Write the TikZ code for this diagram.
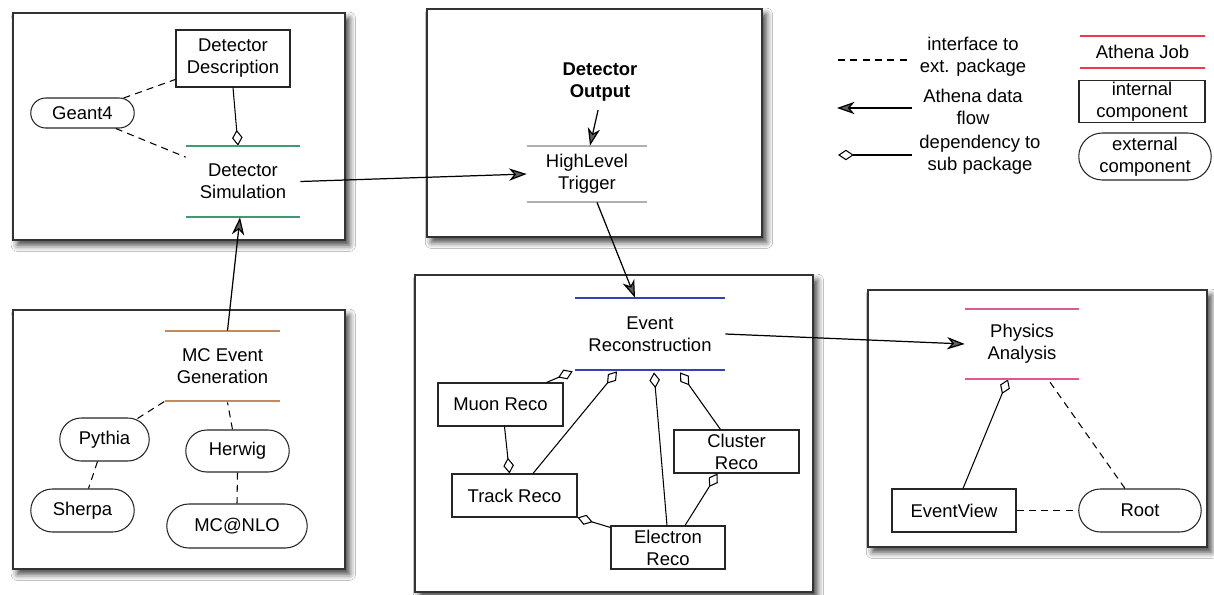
\documentclass[tikz,border=0pt]{standalone}
\usepackage{fontspec}
\setmainfont{Liberation Sans}
\usepackage{xcolor}
\usetikzlibrary{positioning,arrows.meta,calc,shapes.misc,shadows.blur}

\definecolor{simline}{HTML}{3F9A74}
\definecolor{hltline}{HTML}{B0B0B0}
\definecolor{recoline}{HTML}{2E46B0}
\definecolor{analine}{HTML}{DA5A98}
\definecolor{genline}{HTML}{C28A5E}
\definecolor{legjobline}{HTML}{EC3A4A}
\newcommand\mainsize{\fontsize{10.5}{12.5}\selectfont}

\begin{document}
\begin{tikzpicture}[x=0.02cm, y=-0.02cm, font=\mainsize, >=Stealth,
  panel/.style={draw=black!80, line width=0.8pt, fill=white,
    blur shadow={shadow xshift=2.5pt, shadow yshift=-3pt, shadow blur radius=3.5pt, shadow opacity=75}},
  comp/.style={draw=black!85, line width=0.6pt, align=center, inner sep=1pt, minimum height=0.86cm},
  ext/.style={draw=black!85, rounded rectangle, line width=0.6pt, align=center, inner sep=1pt, minimum height=0.86cm},
  job/.style={align=center, inner sep=0pt},
  jobedge/.style={line width=1pt},
  flow/.style={-{Stealth[length=10pt, width=7pt, inset=3pt]}, line width=0.7pt},
  dep/.style={-{Diamond[open, length=9pt, width=6pt]}, line width=0.6pt},
  iface/.style={line width=0.6pt, dash pattern=on 4pt off 3pt}]
  \useasboundingbox (0,0) rectangle (1214,595);
  \fill[white] (0,0) rectangle (1214,595);

  % panels
  \draw[panel] (13,13) rectangle (345,240);
  \draw[panel] (427,9) rectangle (762,237);
  \draw[panel] (13,310) rectangle (345,569);
  \draw[panel] (415,275) rectangle (813,592);
  \draw[panel] (868,290) rectangle (1207,547);

  % simulation
  \node[comp, minimum width=2.28cm, minimum height=1.14cm] (desc) at (233,58.5) {Detector\\Description};
  \node[ext, minimum width=2.14cm, minimum height=0.6cm] (geant) at (82.5,113) {Geant4};
  \node[job, minimum width=2.28cm, minimum height=1.42cm] (sim) at (243,181.5) {Detector\\Simulation};
  \draw[iface] (geant.20) -- (desc.200);
  \draw[iface] (geant.-25) -- (sim.157);
  \draw[dep] (desc.south) -- ($(sim.north)+(-5,0)$);

  % trigger
  \node[job, font=\mainsize\bfseries] (detout) at (600,82) {Detector\\Output};
  \node[job, minimum width=2.4cm, minimum height=1.12cm] (hlt) at (587,174) {HighLevel\\Trigger};

  % event generation
  \node[job, minimum width=2.3cm, minimum height=1.4cm] (mcgen) at (222.5,366) {MC Event\\Generation};
  \node[ext, minimum width=1.86cm] (pythia) at (104.5,439.5) {Pythia};
  \node[ext, minimum width=2.14cm, minimum height=0.84cm] (herwig) at (237.5,451) {Herwig};
  \node[ext, minimum width=2.14cm] (sherpa) at (82.5,510.5) {Sherpa};
  \node[ext, minimum width=2.88cm, minimum height=0.88cm] (mcnlo) at (237,526) {MC@NLO};
  \draw[iface] ($(pythia.north)+(33,1)$) -- (mcgen.south west);
  \draw[iface] ($(herwig.north)+(-5,0)$) -- ($(mcgen.south)+(5,1)$);
  \draw[iface] ($(pythia.south)+(-7,0)$) -- ($(sherpa.north)+(6,0)$);
  \draw[iface] (herwig.south) -- (mcnlo.north);

  % reconstruction
  \node[job, minimum width=3cm, minimum height=1.44cm] (evreco) at (650,334) {Event\\Reconstruction};
  \node[comp, minimum width=2.5cm] (muon) at (500.5,404.5) {Muon Reco};
  \node[comp, minimum width=2.5cm] (track) at (514.5,495.5) {Track Reco};
  \node[comp, minimum width=2.5cm] (cluster) at (736.5,451.5) {Cluster\\Reco};
  \node[comp, minimum width=2.28cm] (electron) at (668,547.5) {Electron\\Reco};
  \draw[dep] ($(muon.north)+(46,0)$) -- ($(evreco.south west)+(-2,1)$);
  \draw[dep] ($(track.north)+(18.5,0)$) -- ($(evreco.south)+(-33,1)$);
  \draw[dep] ($(electron.north)+(-1,0)$) -- ($(evreco.south)+(4,2)$);
  \draw[dep] ($(cluster.north)+(-16,0)$) -- ($(evreco.south)+(30,2)$);
  \draw[dep] ($(muon.south)+(4,0)$) -- ($(track.north)+(-5,0)$);
  \draw[dep] ($(electron.north west)+(0,2)$) -- (track.south east);
  \draw[dep] ($(electron.north)+(17,0)$) -- ($(cluster.south)+(-19,0)$);

  % analysis
  \node[job, minimum width=2.28cm, minimum height=1.4cm] (phys) at (1022,344) {Physics\\Analysis};
  \node[comp, minimum width=2.48cm] (eview) at (954,510.5) {EventView};
  \node[ext, minimum width=2.52cm] (root) at (1140,510.5) {Root};
  \draw[dep] ($(eview.north)+(9,0)$) -- ($(phys.south)+(-14,0)$);
  \draw[iface] ($(root.north)+(-15,0)$) -- ($(phys.south)+(26,0)$);
  \draw[iface] (eview.east) -- (root.west);

  % legend
  \node[job] (lgdash) at (973,57) {interface to\\ext. package};
  \node[job] (lgflow) at (973,107) {Athena data\\flow};
  \node[job] (lgdep) at (980,155) {dependency to\\sub package};
  \coordinate (lgdashA) at (838,60);  \coordinate (lgdashB) at (908,60);
  \coordinate (lgflowA) at (912,108); \coordinate (lgflowB) at (837,108);
  \coordinate (lgdepA) at (912,155);  \coordinate (lgdepB) at (838,155);
  \draw[iface] (lgdashA) -- (lgdashB);
  \draw[flow] (lgflowA) -- (lgflowB);
  \draw[dep] (lgdepA) -- (lgdepB);
  \node[job, minimum width=2.5cm, minimum height=0.64cm] (lgjob) at (1142.5,52) {Athena Job};
  \node[comp, minimum width=2.52cm, minimum height=0.82cm] (lgint) at (1142,101.5) {internal\\component};
  \node[ext, minimum width=2.72cm, minimum height=0.94cm] (lgext) at (1145,156.5) {external\\component};

  % job lines above and below
  \foreach \n/\col in {sim/simline, hlt/hltline, evreco/recoline, phys/analine, mcgen/genline, lgjob/legjobline} {
    \draw[jobedge, draw=\col] (\n.north west) -- (\n.north east);
    \draw[jobedge, draw=\col] (\n.south west) -- (\n.south east);
  }

  % data flow
  \draw[flow] (sim.east) -- (hlt.west);
  \draw[flow] ($(mcgen.north)+(5,0)$) -- ($(sim.south)+(-3,0)$);
  \draw[flow, shorten <=5pt] (detout.south) -- ($(hlt.north)+(3,0)$);
  \draw[flow] ($(hlt.south)+(10,0)$) -- ($(evreco.north)+(-15,0)$);
  \draw[flow] (evreco.east) -- (phys.west);
\end{tikzpicture}
\end{document}
